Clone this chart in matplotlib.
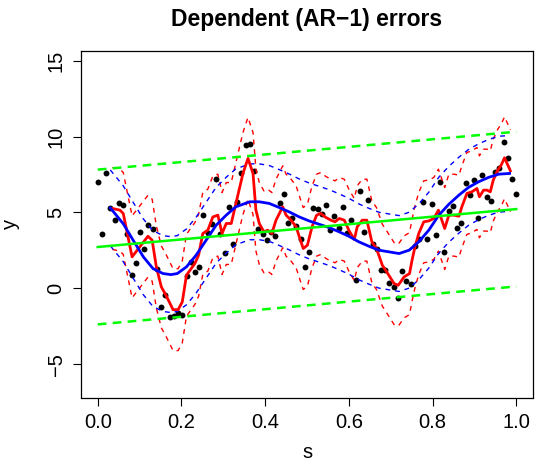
import numpy as np
import matplotlib
matplotlib.use("Agg")
import matplotlib.pyplot as plt

plt.rcParams['font.family'] = ['Liberation Sans', 'DejaVu Sans']

# observations, evenly spaced design on [0, 1]
s = np.linspace(0, 1, 100)
y = [6.98, 3.56, 7.60, 5.30, 4.53, 5.63, 5.50, 3.56, 0.90, 1.65,
     3.72, 2.60, 4.14, 3.92, 1.30, -1.23, -0.45, -1.90, -1.85, -1.63,
     -1.78, 0.81, 1.70, 1.08, 1.43, 4.86, 3.65, 4.22, 7.17, 3.56,
     2.33, 5.33, 2.95, 5.70, 7.61, 9.42, 9.52, 7.70, 3.90, 3.60,
     3.15, 3.70, 3.45, 5.59, 6.22, 4.31, 4.64, 4.09, 3.28, 1.37,
     2.40, 5.30, 5.23, 4.88, 5.48, 3.87, 4.75, 3.98, 5.39, 3.65,
     4.53, 0.57, 6.42, 3.72, 5.83, 2.95, 2.62, 1.23, 1.23, 0.35,
     0.07, -0.64, 1.12, 0.46, 0.31, 2.79, 3.23, 5.70, 3.28, 5.56,
     3.54, 6.98, 2.42, 5.10, 5.41, 3.98, 4.31, 6.91, 6.14, 7.13,
     4.64, 7.46, 6.00, 5.74, 7.64, 7.90, 9.64, 8.60, 7.19, 6.22]

# small-bandwidth fit (red)
red_s = [0.035, 0.053, 0.061, 0.082, 0.120, 0.130, 0.140, 0.152, 0.163, 0.180,
         0.192, 0.202, 0.212, 0.232, 0.241, 0.251, 0.263, 0.275, 0.287, 0.297,
         0.307, 0.319, 0.332, 0.347, 0.359, 0.371, 0.378, 0.386, 0.397, 0.406,
         0.416, 0.426, 0.442, 0.450, 0.462, 0.474, 0.483, 0.491, 0.501, 0.512,
         0.523, 0.533, 0.545, 0.557, 0.567, 0.577, 0.589, 0.600, 0.613, 0.620,
         0.632, 0.643, 0.655, 0.666, 0.680, 0.690, 0.708, 0.718, 0.732, 0.745,
         0.751, 0.758, 0.767, 0.779, 0.791, 0.803, 0.814, 0.829, 0.839, 0.851,
         0.863, 0.870, 0.882, 0.894, 0.906, 0.912, 0.922, 0.930, 0.938, 0.945,
         0.956, 0.964, 0.972, 0.986]
red_y = [5.26, 5.15, 4.93, 2.07, 3.43, 3.17, 1.41, 0.09, -0.46, -1.41,
         -1.41, -0.90, 0.86, 1.63, 2.18, 3.61, 3.83, 4.70, 4.82, 3.61,
         4.27, 4.27, 5.81, 7.57, 8.56, 7.57, 5.15, 4.27, 3.72, 3.83,
         3.61, 4.49, 5.37, 4.82, 4.49, 4.05, 3.28, 2.62, 2.84, 4.05,
         4.82, 4.93, 4.67, 4.49, 4.38, 4.60, 4.49, 3.83, 3.21, 4.05,
         4.49, 4.49, 3.06, 2.62, 1.52, 1.10, 0.31, 0.20, 0.75, 0.97,
         1.85, 2.73, 3.61, 4.38, 4.44, 4.60, 5.15, 3.94, 4.82, 4.82,
         4.75, 5.37, 6.25, 6.36, 6.58, 6.03, 6.47, 6.47, 6.36, 7.13,
         7.79, 8.12, 8.60, 7.74]
red_band = 2.7

# smooth fit (blue)
blue_s = [0.030, 0.061, 0.085, 0.109, 0.132, 0.156, 0.175, 0.190, 0.212, 0.235,
          0.259, 0.283, 0.307, 0.330, 0.363, 0.386, 0.410, 0.433, 0.457, 0.481,
          0.505, 0.529, 0.553, 0.577, 0.600, 0.624, 0.648, 0.672, 0.696, 0.720,
          0.744, 0.767, 0.791, 0.815, 0.839, 0.863, 0.886, 0.910, 0.934, 0.958,
          0.984]
blue_y = [5.30, 4.25, 3.15, 2.07, 1.30, 0.97, 0.90, 0.97, 1.41, 2.18,
          3.17, 4.16, 4.82, 5.37, 5.70, 5.70, 5.59, 5.33, 5.04, 4.71,
          4.44, 4.22, 4.00, 3.72, 3.43, 3.06, 2.77, 2.51, 2.40, 2.29,
          2.51, 3.06, 3.83, 4.82, 5.54, 6.14, 6.65, 7.02, 7.31, 7.52,
          7.57]
blue_band = 2.5

# linear fit (green)
lin_s = [0.0, 1.0]
lin_y = [2.72, 5.22]
lin_band = 5.1

fig = plt.figure(figsize=(5.35, 4.62), dpi=100)
ax = fig.add_axes([81/535, 1 - 397.5/462, (533 - 81)/535, (397.5 - 50.7)/462])

ax.scatter(s, y, s=18, color='black', zorder=2, linewidths=0)

red_s = np.array(red_s); red_y = np.array(red_y)
blue_s = np.array(blue_s); blue_y = np.array(blue_y)
lin_s = np.array(lin_s); lin_y = np.array(lin_y)

thin = dict(lw=1.0, dashes=(3.5, 3.5), zorder=3)
ax.plot(red_s, red_y + red_band, color='red', **thin)
ax.plot(red_s, red_y - red_band, color='red', **thin)
ax.plot(red_s, red_y, color='red', lw=2.0, zorder=4)

ax.plot(blue_s, blue_y + blue_band, color='blue', **thin)
ax.plot(blue_s, blue_y - blue_band, color='blue', **thin)
ax.plot(blue_s, blue_y, color='blue', lw=2.0, zorder=5)

ax.plot(lin_s, lin_y + lin_band, color='#00ff00', lw=1.8, dashes=(3.5, 2.5), zorder=6)
ax.plot(lin_s, lin_y - lin_band, color='#00ff00', lw=1.8, dashes=(3.5, 2.5), zorder=6)
ax.plot(lin_s, lin_y, color='#00ff00', lw=1.8, zorder=6)

ax.set_xlim(-0.04, 1.04)
ax.set_ylim(-7.2, 15.66)
ax.set_xticks([0.0, 0.2, 0.4, 0.6, 0.8, 1.0])
ax.set_xticklabels(['0.0', '0.2', '0.4', '0.6', '0.8', '1.0'])
ax.set_yticks([-5, 0, 5, 10, 15])
ax.set_yticklabels(['\u22125', '0', '5', '10', '15'], rotation=90, va='center')
ax.tick_params(labelsize=14.5, length=6, width=0.8, pad=5)
for sp in ax.spines.values():
    sp.set_linewidth(0.9)

ax.set_xlabel('s', fontsize=14.5, labelpad=8)
ax.set_ylabel('y', fontsize=14.5, labelpad=19)
ax.set_title('Dependent (AR\u22121) errors', fontsize=16.5, fontweight='bold', pad=18)

fig.savefig('out.png', dpi=100)
